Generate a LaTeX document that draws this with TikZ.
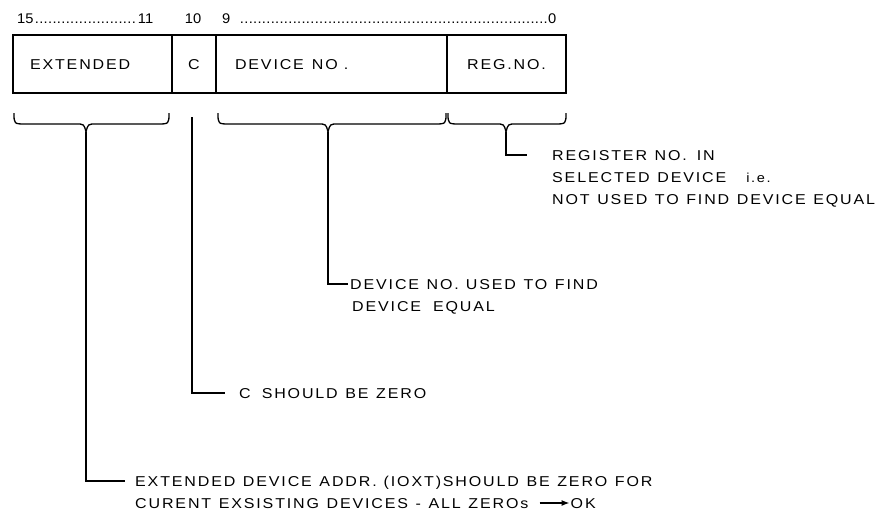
\documentclass[tikz,border=0pt]{standalone}
\usepackage{fontspec}
\setmainfont{Liberation Sans}[FakeStretch=1.12,LetterSpace=13,WordSpace=1.2]
\newfontfamily\numfont{Liberation Sans}[FakeStretch=1.05]
\usetikzlibrary{arrows.meta}
\newcommand\lbsize{\fontsize{14.3pt}{16pt}\selectfont}
\newcommand\nmsize{\numfont\fontsize{14pt}{16pt}\selectfont}
\newcommand\mybrace[3]{%
  \draw[brc] (#1,113) .. controls (#1,124) .. (#1+12,124) -- (#2-10,124)
    .. controls (#2-2,124) .. (#2,132) .. controls (#2+2,124) .. (#2+10,124)
    -- (#3-12,124) .. controls (#3,124) .. (#3,113);}
\newcommand\dotlead{\leaders\hbox to 4.4pt{\hss.\hss}\hfill}
\begin{document}
\begin{tikzpicture}[x=1pt,y=-1pt,
  field/.style={draw, line width=1.4pt, rectangle, outer sep=0pt, minimum height=58pt,
    anchor=north west, inner ysep=0pt, text height=10pt, text depth=0pt, font=\lbsize},
  txt/.style={inner sep=0pt, anchor=west, text height=10pt, text depth=0pt, font=\lbsize},
  num/.style={inner sep=0pt, font=\nmsize},
  brc/.style={line width=1.3pt},
  lead/.style={line width=1.3pt}]
\useasboundingbox (0,0) rectangle (885,515);

% register fields
\node[field, minimum width=159pt, inner xsep=17pt, text width=125pt, align=left] (ext) at (13,35) {EXTENDED};
\node[field, minimum width=44pt, inner xsep=4pt, text width=36pt, align=center] (cf) at (ext.north east) {C};
\node[field, minimum width=231pt, inner xsep=19pt, text width=193pt, align=left] (dev) at (cf.north east) {DEVICE\hskip 8pt NO\hskip 6pt.};
\node[field, minimum width=119pt, inner xsep=4pt, text width=111pt, align=center] (reg) at (dev.north east) {REG.NO.};

% bit numbers
\node[num, anchor=base west] (n15) at (17,23) {\hbox to 136pt{15\dotlead 11}};
\node[num, anchor=base] (n10) at (193,23) {10};
\node[num, anchor=base west] (n9) at (222,23) {\hbox to 334pt{9\hskip 9pt\dotlead 0}};

% braces
\mybrace{14}{86}{169}
\mybrace{218}{328}{446}
\mybrace{448}{506}{566}

\coordinate (t1) at (86,132);
\coordinate (t2) at (192,117);
\coordinate (t3) at (328,132);
\coordinate (t4) at (506,132);

% texts
\node[txt] (r1) at (552,155) {REGISTER NO.\hskip 10pt IN};
\node[txt] (r2) at (552,177) {SELECTED DEVICE\hskip 20pt{\fontsize{13pt}{15pt}\selectfont i.e.}};
\node[txt] (r3) at (552,199) {NOT USED TO FIND DEVICE EQUAL};
\node[txt] (d1) at (350,284) {DEVICE NO.\hskip 7pt USED TO FIND};
\node[txt] (d2) at (352,306) {DEVICE\hskip 12pt EQUAL};
\node[txt] (c1) at (239,393) {C\hskip 11pt SHOULD BE ZERO};
\node[txt] (x1) at (135,481) {EXTENDED DEVICE ADDR.\hskip 7pt (IOXT)SHOULD BE ZERO FOR};
\node[txt] (x2) at (135,503) {CURENT EXSISTING DEVICES - ALL ZEROs};
\node[txt] (ok) at ([xshift=42pt]x2.east) {OK};

% connectors
\draw[lead] (t4) |- ([xshift=-25pt]r1.west);
\draw[lead] (t3) |- ([xshift=-2pt]d1.west);
\draw[lead] (t2) |- ([xshift=-14pt]c1.west);
\draw[lead] (t1) |- ([xshift=-10pt]x1.west);
\draw[lead, -{Latex[length=8pt,width=6pt]}] ([xshift=11pt]x2.east) -- ([xshift=-1pt]ok.west);
\end{tikzpicture}
\end{document}
